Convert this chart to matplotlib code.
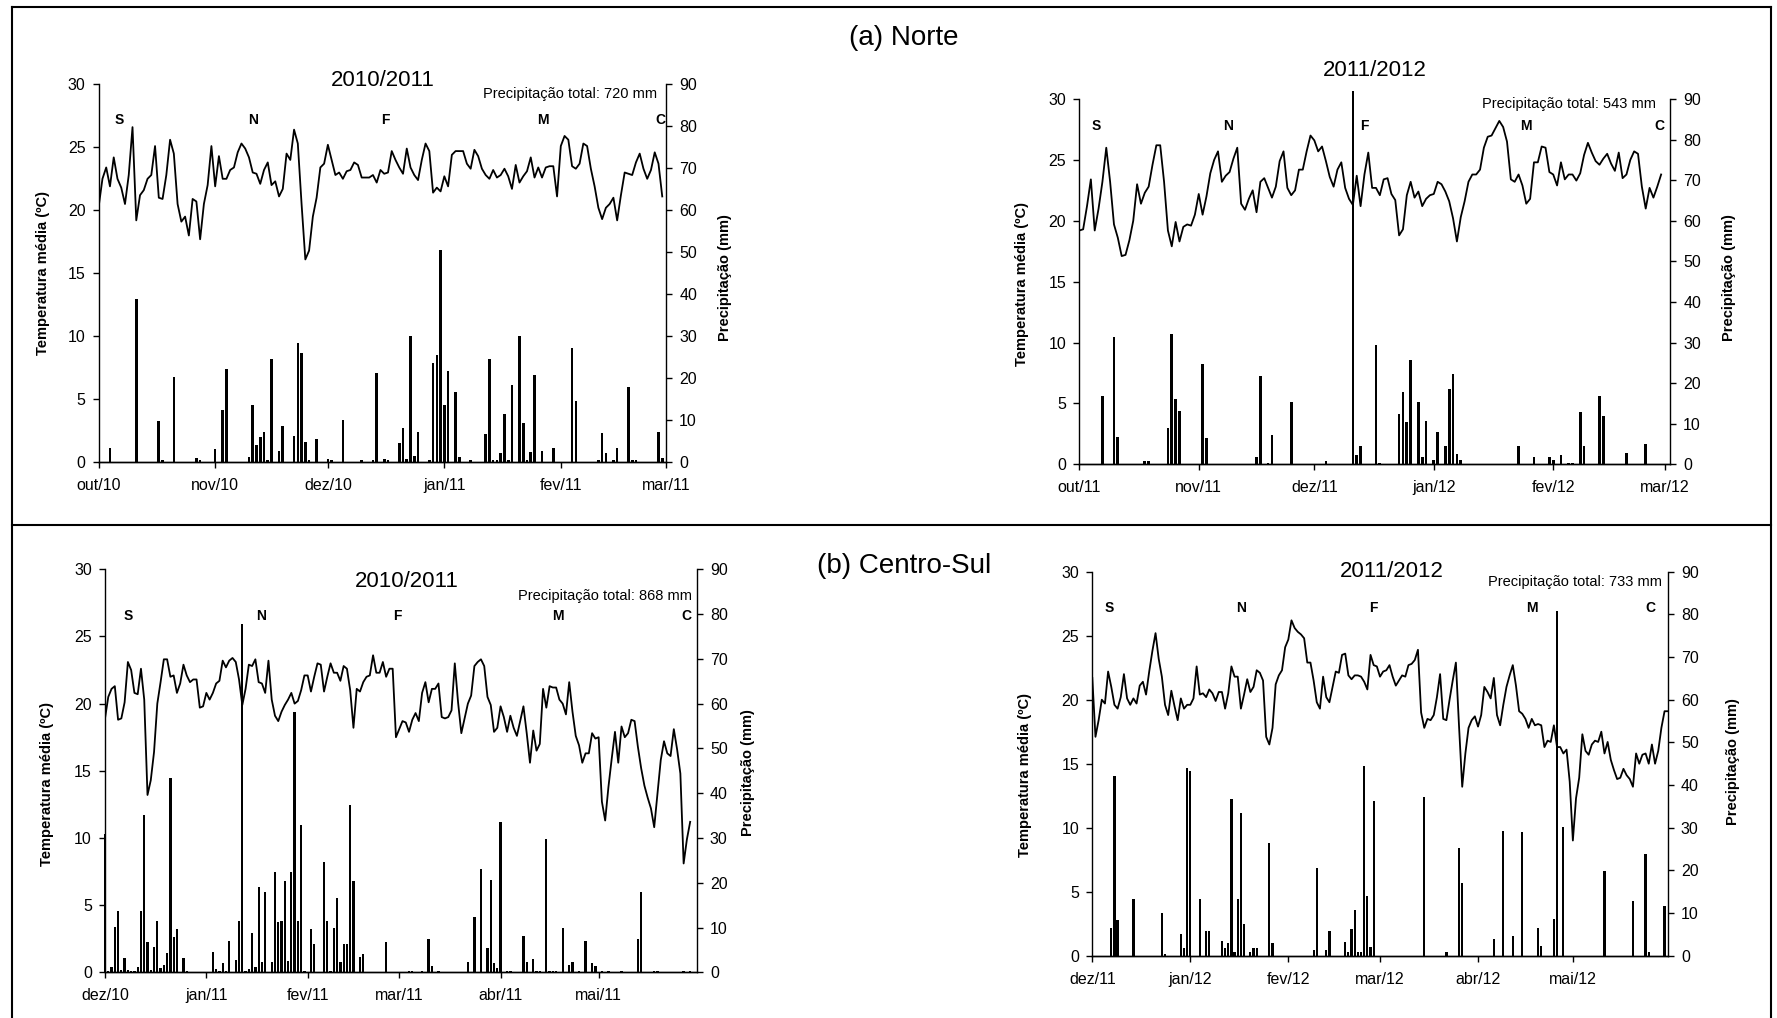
import numpy as np
import matplotlib
matplotlib.use("Agg")
import matplotlib.pyplot as plt
from matplotlib.lines import Line2D

plt.rcParams['font.family'] = ['Liberation Sans', 'DejaVu Sans']

# ---------------------------------------------------------------- data
stage_letters = ['S', 'N', 'F', 'M', 'C']

# (a) Norte 2010/2011 -------------------------------------------------
start_a1 = '2010-10-01'
months_a1 = ['2010-10-01', '2010-11-01', '2010-12-01', '2011-01-01', '2011-02-01', '2011-03-01']
labels_a1 = ['out/10', 'nov/10', 'dez/10', 'jan/11', 'fev/11', 'mar/11']
temp_a1 = [20.3, 22.5, 23.4, 21.9, 24.2, 22.5, 21.8, 20.5, 22.8, 26.6,
           19.2, 21.2, 21.6, 22.5, 22.8, 25.1, 21.0, 20.9, 22.8, 25.6,
           24.5, 20.5, 19.1, 19.5, 18.0, 20.9, 20.7, 17.7, 20.5, 22.0,
           25.1, 21.9, 24.3, 22.5, 22.5, 23.2, 23.4, 24.6, 25.3, 24.9,
           24.2, 23.0, 22.9, 22.1, 23.2, 23.8, 22.0, 22.3, 21.1, 21.7,
           24.5, 24.0, 26.4, 25.3, 20.5, 16.1, 16.8, 19.5, 21.0, 23.4,
           23.7, 25.2, 24.0, 22.8, 23.0, 22.5, 23.1, 23.2, 23.8, 23.6,
           22.6, 22.6, 22.6, 22.8, 22.2, 23.2, 22.9, 23.0, 24.7, 24.0,
           23.4, 22.9, 24.9, 23.4, 22.8, 22.4,
           24.0, 25.3, 24.7, 21.4, 21.8, 21.5, 22.7, 21.9, 24.4, 24.7,
           24.7, 24.7, 23.7, 23.3, 24.8, 24.3, 23.3, 22.8, 22.5, 23.2,
           22.6, 22.8, 23.3, 22.7, 21.7, 23.6, 22.2, 22.7, 23.1, 24.2,
           22.6, 23.4, 22.6, 23.4, 23.5, 23.5, 21.1, 25.1, 25.9, 25.6,
           23.5, 23.3, 23.7, 25.3, 25.1, 23.3, 21.9, 20.2, 19.3, 20.2,
           20.5, 21.0, 19.2, 21.2, 23.0, 22.9, 22.8, 23.8, 24.5, 23.3,
           22.5, 23.2, 24.6, 23.7, 21.1]
rain_day_a1 = [3, 10, 16, 17, 20, 26, 27, 31, 33, 34, 40, 41, 42, 43, 44, 45, 46, 48, 49,
               52, 53, 54, 55, 56, 58, 61, 62, 65, 70, 73, 74, 76, 77, 80, 81, 82, 83, 84,
               85, 88, 89, 90, 91, 92, 93, 95, 96, 99, 103, 104, 105, 106, 107, 108, 109,
               110, 112, 113, 114, 115, 116, 118, 121, 126, 127, 133, 134, 135, 137, 138,
               141, 142, 143, 149, 150]
rain_mm_a1 = [3.5, 39.0, 9.8, 0.5, 20.4, 1.1, 0.5, 3.1, 12.5, 22.2, 1.2, 13.6, 4.1, 6.0, 7.3,
              0.5, 24.6, 2.8, 8.7, 6.3, 28.3, 26.0, 4.9, 0.5, 5.6, 0.8, 0.5, 10.0, 0.5, 0.5,
              21.2, 0.8, 0.5, 4.5, 8.1, 0.9, 30.0, 1.5, 7.3, 0.5, 23.6, 25.5, 50.5, 13.7,
              21.8, 16.7, 1.2, 0.5, 6.7, 24.6, 0.5, 0.5, 2.1, 11.4, 0.5, 18.4, 30.0, 9.3,
              0.5, 2.5, 20.8, 2.8, 3.5, 27.3, 14.6, 0.5, 6.9, 2.1, 0.5, 3.5, 18.0, 0.5, 0.5,
              7.3, 1.1]
stage_day_a1 = [5.5, 41, 76.2, 118.3, 149.4]
total_a1 = 'Precipitação total: 720 mm'

# (a) Norte 2011/2012 -------------------------------------------------
start_a2 = '2011-10-01'
months_a2 = ['2011-10-01', '2011-11-01', '2011-12-01', '2012-01-01', '2012-02-01', '2012-03-01']
labels_a2 = ['out/11', 'nov/11', 'dez/11', 'jan/12', 'fev/12', 'mar/12']
temp_a2 = [19.2, 19.3, 21.2, 23.4, 19.2, 21.0, 23.2, 26.0, 23.2, 19.7,
           18.6, 17.1, 17.2, 18.4, 20.0, 23.0, 21.4, 22.3, 22.8, 24.6,
           26.2, 26.2, 23.2, 19.2, 17.9, 19.9, 18.3, 19.5, 19.7, 19.6,
           20.5, 22.2, 20.5, 22.0, 23.9, 25.0, 25.7, 23.2, 23.7, 24.0,
           25.1, 26.0, 21.4, 20.9, 21.8, 22.5, 20.7, 23.2, 23.5, 22.7,
           21.9, 22.8, 24.9, 25.7, 22.7, 22.1, 22.5, 24.2, 24.2, 25.7,
           27.0, 26.6, 25.7, 26.1, 24.9, 23.6, 22.8,
           24.2, 24.8, 22.7, 21.8, 21.3, 23.7, 21.2, 23.8, 25.6, 22.7,
           22.7, 22.1, 23.4, 23.5, 22.2, 21.7, 18.8, 19.3, 22.1, 23.2,
           21.9, 22.4, 21.2, 21.8, 22.1, 22.2, 23.2, 23.0, 22.4, 21.6,
           20.2, 18.3, 20.3, 21.6, 23.2, 23.8, 23.8, 24.2, 26.0, 26.9,
           27.0, 27.6, 28.2, 27.7, 26.5, 23.4, 23.2, 23.8, 22.9, 21.4,
           21.8, 24.8, 24.8, 26.1, 26.0, 24.0, 23.8, 22.9, 24.8, 23.4,
           23.8, 23.8, 23.3, 23.9, 25.4, 26.4, 25.6, 24.9, 24.6, 25.1,
           25.5, 24.7, 24.1, 25.6, 23.5, 23.8, 25.0, 25.7, 25.5, 22.8,
           21.0, 22.7, 21.9, 22.8, 23.8]
rain_day_a2 = [6, 9, 10, 17, 18, 23, 24, 25, 26, 32, 33, 46, 47, 49, 50, 55, 64, 71, 72, 73,
               77, 78, 83, 84, 85, 86, 88, 89, 90, 92, 93, 95, 96, 97, 98, 99, 114, 118, 122,
               123, 125, 127, 128, 130, 131, 135, 136, 142, 147]
rain_mm_a2 = [16.8, 31.4, 6.8, 0.8, 0.8, 9.0, 32.1, 16.1, 13.1, 24.7, 6.6, 1.9, 21.8, 0.4,
              7.2, 15.3, 0.8, 92.0, 2.3, 4.4, 29.4, 0.4, 12.4, 17.9, 10.5, 25.7, 15.4, 1.9,
              10.7, 1.1, 7.9, 4.4, 18.6, 22.2, 2.5, 1.1, 4.6, 1.9, 1.9, 1.1, 2.3, 0.4, 0.4,
              12.8, 4.4, 16.8, 11.9, 2.9, 5.0]
stage_day_a2 = [4.3, 38.6, 74.1, 116, 150.6]
total_a2 = 'Precipitação total: 543 mm'

# (b) Centro-Sul 2010/2011 --------------------------------------------
start_b1 = '2010-12-01'
months_b1 = ['2010-12-01', '2011-01-01', '2011-02-01', '2011-03-01', '2011-04-01', '2011-05-01']
labels_b1 = ['dez/10', 'jan/11', 'fev/11', 'mar/11', 'abr/11', 'mai/11']
temp_b1 = [18.9, 20.5, 21.1, 21.3, 18.8, 18.9, 20.1, 23.1, 22.5, 20.8,
           20.7, 22.6, 20.3, 13.2, 14.3, 16.4, 20.0, 21.6, 23.3, 23.3,
           22.0, 22.1, 20.8, 21.5, 22.9, 22.1, 21.6, 21.8, 21.8, 19.7,
           19.8, 20.8, 20.3, 20.8, 21.5, 21.7, 23.2, 22.7, 23.2, 23.4,
           23.1, 21.8, 19.9, 21.1, 22.9, 22.8, 23.3, 21.6, 21.5, 20.8,
           23.2, 20.3, 19.1, 18.7, 19.4, 19.9, 20.3, 20.8, 20.0, 20.2,
           21.0, 22.1, 22.1, 20.9, 22.0, 23.0, 22.9, 20.9, 22.0, 23.0,
           22.3, 22.3, 21.7, 22.8, 22.6, 21.0, 18.2, 21.1, 20.9, 21.6,
           22.0, 22.1, 23.6, 22.3, 22.3, 23.1, 22.0, 22.6, 22.6, 17.5,
           18.1, 18.7, 18.6, 17.9, 18.8, 19.3,
           18.7, 20.8, 21.6, 20.1, 21.1, 21.1, 21.5, 19.0, 18.9, 19.0,
           19.5, 23.0, 20.1, 17.8, 18.9, 20.0, 20.6, 22.8, 23.1, 23.3,
           22.8, 20.5, 19.9, 17.9, 18.2, 19.8, 19.0, 17.9, 19.1, 18.2,
           17.6, 18.7, 19.8, 17.8, 15.6, 18.0, 16.5, 17.0, 21.1, 19.7,
           21.3, 21.2, 21.2, 20.3, 20.0, 19.2, 21.6, 19.4, 17.6, 16.9,
           15.6, 16.3, 16.3, 17.8, 17.4, 17.5, 12.7, 11.3, 13.8, 15.9,
           17.9, 15.6, 18.3, 17.5, 17.8, 18.8, 18.7, 16.8, 15.2, 13.9,
           13.0, 12.2, 10.8, 13.3, 15.8, 17.2, 16.3, 16.1, 18.1, 16.6,
           14.8, 8.1, 9.9, 11.2]
rain_day_b1 = [0, 1, 2, 3, 4, 5, 6, 7, 8, 9, 10, 11, 12, 13, 14, 15, 16, 17, 18, 19, 20, 21,
               22, 24, 25, 33, 34, 35, 36, 37, 38, 40, 41, 42, 43, 44, 45, 46, 47, 48, 49, 51,
               52, 53, 54, 55, 56, 57, 58, 59, 60, 61, 63, 64, 67, 68, 69, 70, 71, 72, 73, 74,
               75, 76, 78, 79, 86, 93, 94, 97, 99, 100, 102, 111, 113, 115, 117, 118, 119,
               120, 121, 123, 124, 128, 129, 131, 132, 133, 135, 136, 137, 138, 140, 142,
               143, 145, 147, 149, 150, 152, 154, 158, 163, 164, 168, 169, 177, 179]
rain_mm_b1 = [30.8, 0.3, 1.1, 10.1, 13.8, 0.5, 3.1, 0.5, 0.3, 0.3, 1.1, 13.8, 35.1, 6.7, 0.5,
              5.6, 11.5, 1.0, 1.6, 4.2, 43.5, 7.8, 9.6, 3.1, 0.3, 4.5, 0.7, 0.3, 2.0, 0.3,
              7.1, 2.8, 11.5, 77.7, 0.3, 0.7, 8.7, 1.1, 19.1, 2.2, 18.0, 2.2, 22.3, 11.3,
              11.5, 20.3, 2.6, 22.5, 58.1, 11.5, 32.8, 0.3, 9.6, 6.3, 24.7, 11.5, 0.3, 9.8,
              16.5, 2.4, 6.3, 6.3, 37.4, 20.5, 3.5, 4.0, 6.7, 0.3, 0.3, 0.3, 7.4, 1.5, 0.3,
              2.2, 12.4, 23.1, 5.4, 20.6, 2.0, 0.9, 33.5, 0.3, 0.3, 8.0, 2.4, 2.9, 0.3, 0.3,
              29.8, 0.3, 0.3, 0.3, 10.0, 1.6, 2.2, 0.3, 6.9, 2.0, 1.3, 0.3, 0.3, 0.3, 7.4,
              18.0, 0.3, 0.3, 0.3, 0.3]
stage_day_b1 = [7.2, 47.8, 89.4, 138.5, 177.8]
total_b1 = 'Precipitação total: 868 mm'

# (b) Centro-Sul 2011/2012 --------------------------------------------
start_b2 = '2011-12-01'
months_b2 = ['2011-12-01', '2012-01-01', '2012-02-01', '2012-03-01', '2012-04-01', '2012-05-01']
labels_b2 = ['dez/11', 'jan/12', 'fev/12', 'mar/12', 'abr/12', 'mai/12']
temp_b2 = [21.7, 17.1, 18.4, 20.0, 19.7, 22.2, 21.0, 19.6, 19.3, 20.2,
           22.0, 20.1, 19.6, 20.1, 19.7, 21.1, 21.4, 20.4, 22.2, 23.8,
           25.2, 23.2, 21.8, 19.6, 18.8, 20.7, 19.5, 18.4, 20.1, 19.3,
           19.6, 19.6, 20.1, 22.6, 20.4, 20.5, 20.2, 20.8, 20.5, 19.9,
           20.6, 20.6, 19.3, 20.5, 22.6, 21.8, 21.8, 19.3, 20.4, 21.6,
           20.6, 21.0, 22.3, 22.1, 21.5, 17.1, 16.5, 17.8, 21.2, 21.9,
           22.3, 24.1, 24.7, 26.2, 25.6, 25.3, 25.1, 24.8, 22.9, 22.9,
           21.5, 19.8, 19.3, 21.8, 20.2, 19.8, 21.0, 22.2, 22.1, 23.5,
           23.6, 21.9, 21.6, 21.9, 21.9, 21.8,
           21.4, 20.8, 23.5, 22.7, 22.6, 21.8, 22.2, 22.3, 22.7, 21.8,
           21.1, 21.5, 21.9, 21.8, 22.7, 22.8, 23.1, 23.9, 19.0, 17.8,
           18.5, 18.4, 18.8, 20.2, 22.0, 18.5, 18.4, 20.0, 21.5, 22.9,
           17.9, 13.2, 15.8, 17.8, 18.4, 18.7, 17.9, 18.8, 21.0, 20.6,
           20.1, 21.7, 18.8, 18.0, 19.6, 21.0, 21.9, 22.7, 21.1, 19.1,
           18.9, 18.5, 17.8, 18.5, 18.0, 18.1, 18.0, 16.3, 16.8, 16.7,
           18.0, 16.3, 16.3, 15.8, 16.1, 13.6, 9.0, 12.3, 13.9, 17.3,
           16.0, 15.7, 16.5, 16.8, 16.7, 17.5, 15.8, 16.7, 15.3, 14.5,
           13.8, 13.9, 14.6, 14.1, 13.8, 13.2, 15.8, 15.0, 15.7, 15.8,
           15.0, 16.5, 15.0, 16.0, 17.8, 19.1, 19.1]
rain_day_b2 = [6, 7, 8, 13, 22, 23, 28, 29, 30, 31, 34, 36, 37, 41, 42, 43, 44, 45, 46, 47,
               48, 50, 51, 52, 56, 57, 70, 71, 74, 75, 80, 81, 82, 83, 84, 85, 86, 87, 88, 89,
               105, 112, 116, 117, 127, 130, 133, 136, 141, 142, 146, 147, 149, 162, 171,
               175, 176, 181]
rain_mm_b2 = [6.6, 42.1, 8.4, 13.3, 9.9, 0.4, 5.1, 1.7, 44.1, 43.4, 13.3, 5.8, 5.8, 3.4, 1.7,
              2.9, 36.7, 0.9, 13.3, 33.4, 7.4, 0.8, 1.7, 1.7, 26.3, 2.9, 1.3, 20.5, 1.3, 5.8,
              3.3, 0.8, 6.3, 10.7, 0.8, 0.8, 44.5, 14.1, 2.0, 36.3, 37.1, 0.8, 25.2, 17.0,
              3.9, 29.2, 4.6, 28.9, 6.6, 2.3, 8.6, 80.9, 30.2, 19.8, 12.8, 23.8, 0.8, 11.6]
stage_day_b2 = [5.4, 47.2, 89, 139, 176.6]
total_b2 = 'Precipitação total: 733 mm'

season_title_1 = '2010/2011'
season_title_2 = '2011/2012'
temp_ticks = [0, 5, 10, 15, 20, 25, 30]
rain_ticks = [0, 10, 20, 30, 40, 50, 60, 70, 80, 90]
ylabel_left = 'Temperatura média (ºC)'
ylabel_right = 'Precipitação (mm)'

# ---------------------------------------------------------------- figure
W, H = 1777, 1018
fig = plt.figure(figsize=(W / 100, H / 100), dpi=100)


def panel(rect, start, months, mlabels, temp, rday, rmm, xmax, title, title_xy,
          total, total_xy, stage_days, stage_y, ylab_l, ylab_r):
    ax = fig.add_axes(rect)
    ax2 = ax.twinx()
    s = np.datetime64(start)
    tick_pos = (np.array(months, dtype='datetime64[D]') - s).astype(float)

    ax2.bar(rday, rmm, width=0.7, color='black', linewidth=0, clip_on=False, zorder=2)
    ax.plot(np.arange(len(temp)), temp, color='black', lw=1.3, zorder=3)

    ax.set_xlim(0, xmax)
    ax.set_ylim(0, 30)
    ax2.set_ylim(0, 90)
    ax.set_yticks(temp_ticks)
    ax2.set_yticks(rain_ticks)
    ax.set_xticks(tick_pos)
    ax.set_xticklabels(mlabels)

    for a in (ax, ax2):
        a.spines['top'].set_visible(False)
        for sp in a.spines.values():
            sp.set_linewidth(1.0)
    ax.spines['right'].set_visible(False)
    ax2.spines['left'].set_visible(False)
    ax.tick_params(axis='y', direction='out', length=4.5, width=1, labelsize=11.5, pad=5)
    ax.tick_params(axis='x', direction='out', length=4.5, width=1, labelsize=11.5, pad=7)
    ax2.tick_params(axis='y', direction='out', length=4.5, width=1, labelsize=11.5, pad=5)

    ax.text(ylab_l[0], ylab_l[1], ylabel_left, transform=ax.transAxes, rotation=90,
            ha='center', va='center', fontsize=10.5, fontweight='bold')
    ax.text(ylab_r[0], ylab_r[1], ylabel_right, transform=ax.transAxes, rotation=90,
            ha='center', va='center', fontsize=10.5, fontweight='bold')
    ax.text(title_xy[0], title_xy[1], title, transform=ax.transAxes,
            ha='center', va='center', fontsize=16)
    ax.text(total_xy[0], total_xy[1], total, transform=ax.transAxes,
            ha='right', va='center', fontsize=10.5)
    for letter, d in zip(stage_letters, stage_days):
        ax.text(d, stage_y, letter, ha='center', va='center', fontsize=10,
                fontweight='bold', zorder=5)
    return ax


panel((0.05554, 0.54587, 0.31925, 0.37132), start_a1, months_a1, labels_a1, temp_a1,
      rain_day_a1, rain_mm_a1, 151, season_title_1, (0.501, 1.011),
      total_a1, (0.984, 0.974), stage_day_a1, 27.2, (-0.099, 0.50), (1.104, 0.49))

panel((0.60737, 0.54391, 0.33241, 0.35884), start_a2, months_a2, labels_a2, temp_a2,
      rain_day_a2, rain_mm_a2, 153.3, season_title_2, (0.500, 1.079),
      total_a2, (0.976, 0.985), stage_day_a2, 27.8, (-0.0975, 0.494), (1.100, 0.511))

panel((0.05909, 0.04489, 0.33298, 0.39587), start_b1, months_b1, labels_b1, temp_b1,
      rain_day_b1, rain_mm_b1, 181, season_title_1, (0.51, 0.970),
      total_b1, (0.9926, 0.934), stage_day_b1, 26.5, (-0.0985, 0.467), (1.087, 0.495))

panel((0.61469, 0.06120, 0.32381, 0.37721), start_b2, months_b2, labels_b2, temp_b2,
      rain_day_b2, rain_mm_b2, 182, season_title_2, (0.520, 1.001),
      total_b2, (0.9906, 0.972), stage_day_b2, 27.2, (-0.117, 0.47), (1.113, 0.505))

# section headings
fig.text(904 / W, 1 - 38 / H, '(a) Norte', ha='center', va='center', fontsize=20)
fig.text(904.5 / W, 1 - 566 / H, '(b) Centro-Sul', ha='center', va='center', fontsize=20)

# frame lines
xl, xr, yt, ym = 11.7 / W, 1771 / W, 1 - 6.7 / H, 1 - 525 / H
for xs, ys in [((xl, xl), (0, yt)), ((xr, xr), (0, yt)), ((xl, xr), (yt, yt)),
               ((xl, xr), (ym, ym))]:
    fig.add_artist(Line2D(xs, ys, transform=fig.transFigure, color='black', lw=1.5))

fig.savefig('out.png', dpi=100)
